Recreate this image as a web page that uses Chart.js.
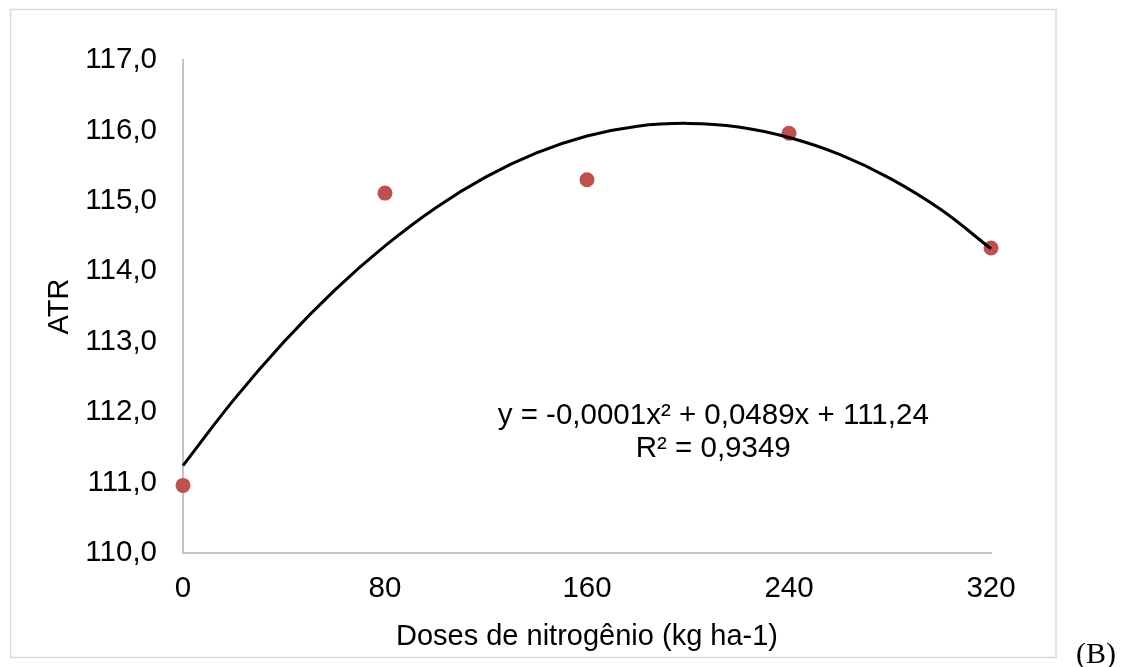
<!DOCTYPE html>
<html>
<head>
<meta charset="utf-8">
<script src="https://cdn.jsdelivr.net/npm/chart.js@4.4.1/dist/chart.umd.min.js"></script>
<style>
  html, body { margin: 0; padding: 0; background: #ffffff; }
</style>
</head>
<body>
<canvas id="atr-chart" width="1135" height="667"></canvas>
<script>
// observed points
var doses = [0, 80, 160, 240, 320];
var atr = [110.96, 115.11, 115.30, 115.96, 114.33];

// trend line
var curve_x = [0, 20, 40, 60, 80, 100, 120, 140, 160, 180, 200, 220, 240, 260, 280, 300, 320];
var curve_y = [111.24, 112.17, 113.00, 113.73, 114.36, 114.90, 115.34, 115.68, 115.92, 116.06, 116.10, 116.05, 115.90, 115.66, 115.32, 114.88, 114.32];

var x_ticks = [0, 80, 160, 240, 320];
var y_ticks = [110, 111, 112, 113, 114, 115, 116, 117];

var equation_lines = ["y = -0,0001x² + 0,0489x + 111,24", "R² = 0,9349"];
var equation_pos = { x: 210, y: [111.945, 111.477] };

var font_family = "'Liberation Sans', Arial, sans-serif";

var decorations = {
    id: "decorations",
    beforeDraw: function (chart) {
        let ctx = chart.ctx;
        ctx.save();
        ctx.fillStyle = "#ffffff";
        ctx.fillRect(0, 0, chart.width, chart.height);
        ctx.strokeStyle = "#d9d9d9";
        ctx.lineWidth = 1.5;
        ctx.strokeRect(10.5, 9.5, 1045.5, 648);
        ctx.restore();
    },
    afterDraw: function (chart) {
        let ctx = chart.ctx;
        let xs = chart.scales.x;
        let ys = chart.scales.y;
        ctx.save();
        ctx.fillStyle = "#000000";
        ctx.font = "29.5px " + font_family;
        ctx.textAlign = "center";
        ctx.textBaseline = "middle";
        for (let i = 0; i < equation_lines.length; i++) {
            ctx.fillText(equation_lines[i], xs.getPixelForValue(equation_pos.x), ys.getPixelForValue(equation_pos.y[i]));
        }
        ctx.font = "30px 'Liberation Serif', 'Times New Roman', serif";
        ctx.textAlign = "left";
        ctx.textBaseline = "alphabetic";
        ctx.fillText("(B)", 1076, 663);
        ctx.restore();
    }
};

var ctx = document.getElementById("atr-chart").getContext("2d");
var chart = new Chart(ctx, {
    type: "scatter",
    data: {
        datasets: [
            {
                label: "Polinomial",
                data: curve_x.map(function (x, i) { return { x: x, y: curve_y[i] }; }),
                showLine: true,
                borderColor: "#000000",
                borderWidth: 3,
                pointRadius: 0,
                tension: 0.4,
                clip: false,
            },
            {
                label: "ATR",
                data: doses.map(function (x, i) { return { x: x, y: atr[i] }; }),
                backgroundColor: "#c0504d",
                borderColor: "#c0504d",
                pointRadius: 7.5,
                borderWidth: 0,
                clip: false,
            },
        ],
    },
    options: {
        responsive: false,
        animation: false,
        layout: { padding: { left: 0, top: 60, right: 144, bottom: 0 } },
        plugins: {
            legend: { display: false },
            tooltip: { enabled: false },
        },
        scales: {
            x: {
                type: "linear",
                min: 0,
                max: 320,
                afterBuildTicks: function (scale) {
                    scale.ticks = x_ticks.map(function (v) { return { value: v }; });
                },
                afterFit: function (scale) { scale.height = 114; },
                grid: { display: false, drawTicks: false },
                border: { display: true, color: "#c4c4c4", width: 2 },
                ticks: {
                    color: "#000000",
                    padding: 18,
                    font: { family: font_family, size: 29.5 },
                },
                title: {
                    display: true,
                    text: "Doses de nitrogênio (kg ha-1)",
                    color: "#000000",
                    font: { family: font_family, size: 29 },
                    padding: { top: 0, bottom: 13 },
                },
            },
            y: {
                type: "linear",
                min: 110,
                max: 117,
                afterBuildTicks: function (scale) {
                    scale.ticks = y_ticks.map(function (v) { return { value: v }; });
                },
                afterFit: function (scale) { scale.width = 183; },
                grid: { display: false, drawTicks: false },
                border: { display: true, color: "#c4c4c4", width: 2 },
                ticks: {
                    color: "#000000",
                    padding: 26,
                    font: { family: font_family, size: 29.5 },
                    callback: function (v) { return v.toFixed(1).replace(".", ","); },
                },
                title: {
                    display: true,
                    text: "ATR",
                    color: "#000000",
                    font: { family: font_family, size: 29 },
                    padding: { top: 43, bottom: 0 },
                },
            },
        },
    },
    plugins: [decorations],
});
</script>
</body>
</html>
